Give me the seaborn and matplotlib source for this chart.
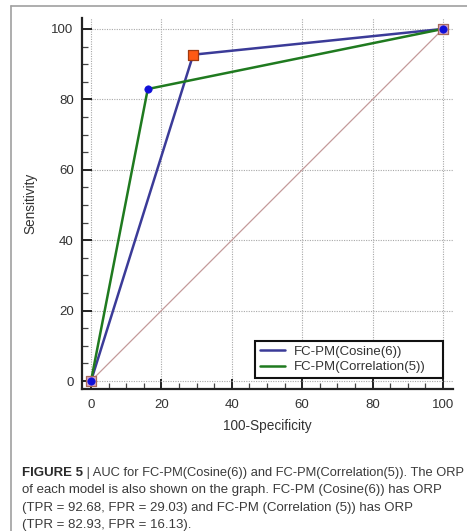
import matplotlib
matplotlib.use("Agg")
import matplotlib.pyplot as plt
import seaborn as sns
import pandas as pd
from matplotlib.lines import Line2D
from matplotlib.ticker import MultipleLocator

# ---- data ----
series_names = ["FC-PM(Cosine(6))", "FC-PM(Correlation(5))"]
fpr_cosine = [0, 29.03, 100]
tpr_cosine = [0, 92.68, 100]
fpr_corr = [0, 16.13, 100]
tpr_corr = [0, 82.93, 100]
diag_x = [0, 100]
diag_y = [0, 100]
x_ticks = [0, 20, 40, 60, 80, 100]
y_ticks = [0, 20, 40, 60, 80, 100]
x_label = "100-Specificity"
y_label = "Sensitivity"
caption_bold = "FIGURE 5"
caption_rest = " | AUC for FC-PM(Cosine(6)) and FC-PM(Correlation(5)). The ORP"
caption_lines = [
    "of each model is also shown on the graph. FC-PM (Cosine(6)) has ORP",
    "(TPR = 92.68, FPR = 29.03) and FC-PM (Correlation (5)) has ORP",
    "(TPR = 82.93, FPR = 16.13).",
]

sns.set_theme(style="white")
plt.rcParams["font.family"] = ["Liberation Sans", "DejaVu Sans"]

W, H = 467, 531
fig = plt.figure(figsize=(W / 100, H / 100), dpi=100)

def fx(px):
    return px / W

def fy(py):
    return 1 - py / H

ax = fig.add_axes([fx(82), fy(389), fx(453) - fx(82), fy(18) - fy(389)])

df_cos = pd.DataFrame({"x": fpr_cosine, "y": tpr_cosine, "model": series_names[0]})
df_cor = pd.DataFrame({"x": fpr_corr, "y": tpr_corr, "model": series_names[1]})

blue = "#3b3b98"
green = "#1f7a1f"

# diagonal reference
sns.lineplot(x=diag_x, y=diag_y, ax=ax, color="#c49a9a", lw=0.9, zorder=2, legend=False)

sns.lineplot(data=df_cos, x="x", y="y", sort=False, ax=ax, color=blue, lw=1.8,
             label=series_names[0], zorder=3, estimator=None)
sns.lineplot(data=df_cor, x="x", y="y", sort=False, ax=ax, color=green, lw=1.8,
             label=series_names[1], zorder=3, estimator=None)

# markers
ends_x = [fpr_cosine[0], fpr_cosine[-1]]
ends_y = [tpr_cosine[0], tpr_cosine[-1]]
sns.scatterplot(x=ends_x, y=ends_y, ax=ax, marker="s", s=48, color="#d2a6cc",
                edgecolor="#a86a5a", linewidth=0.9, zorder=4, legend=False)
sns.scatterplot(x=[fpr_cosine[1]], y=[tpr_cosine[1]], ax=ax, marker="s", s=48,
                color="#ff5a14", edgecolor="#a03a10", linewidth=0.9, zorder=5, legend=False)
corr_pts_x = [fpr_corr[0], fpr_corr[1], fpr_corr[2]]
corr_pts_y = [tpr_corr[0], tpr_corr[1], tpr_corr[2]]
sns.scatterplot(x=corr_pts_x, y=corr_pts_y, ax=ax, marker="o", s=28,
                color="#1010d8", edgecolor="#1010d8", linewidth=0.5, zorder=6, legend=False)

ax.set_xlim(-2.56, 102.84)
ax.set_ylim(-2.27, 103.1)
ax.set_xticks(x_ticks)
ax.set_yticks(y_ticks)
ax.xaxis.set_minor_locator(MultipleLocator(5))
ax.yaxis.set_minor_locator(MultipleLocator(5))

ax.grid(True, which="major", color="#a8a8a8", linestyle=(0, (1, 1.2)), lw=0.8)
ax.set_axisbelow(True)

for s in ["top", "right"]:
    ax.spines[s].set_visible(False)
for s in ["left", "bottom"]:
    ax.spines[s].set_color("#222222")
    ax.spines[s].set_linewidth(1.6)

ax.tick_params(which="major", direction="in", length=7, width=1.4, color="#222222",
               labelsize=9.5, labelcolor="#333333")
ax.tick_params(which="minor", direction="in", length=4, width=0.9, color="#444444")
ax.tick_params(axis="y", which="major", pad=6, left=True)
ax.tick_params(axis="x", which="major", pad=7, bottom=True)
ax.tick_params(axis="y", which="minor", left=True)
ax.tick_params(axis="x", which="minor", bottom=True)

ax.set_xlabel(x_label, fontsize=9.8, color="#333333", labelpad=6)
ax.set_ylabel(y_label, fontsize=9.8, color="#333333", labelpad=10)

leg = ax.legend(loc="lower left", bbox_to_anchor=(0.466, 0.0296, 0.507, 0.108),
                mode="expand", frameon=True, fancybox=False, fontsize=9.5,
                handlelength=1.9, handletextpad=0.7, labelspacing=0.25,
                borderpad=0.35, borderaxespad=0)
leg.get_frame().set_edgecolor("#111111")
leg.get_frame().set_linewidth(1.5)
leg.get_frame().set_facecolor("white")
leg.get_frame().set_alpha(1)
for t in leg.get_texts():
    t.set_color("#333333")

# outer page frame lines
fig.add_artist(Line2D([fx(11), 1], [fy(6), fy(6)], color="#a0a0a0", lw=1.2))
fig.add_artist(Line2D([fx(11), fx(11)], [fy(6), 0], color="#a0a0a0", lw=1.2))

# caption
cap_size = 9.5
line_y = [473, 490.5, 508, 525]
tb = fig.text(fx(22), fy(line_y[0]), caption_bold, fontsize=cap_size, fontweight="bold",
              color="#2a2a2a", va="center", ha="left")
fig.canvas.draw()
bb = tb.get_window_extent()
tr = fig.text(bb.x1 / W, fy(line_y[0]), caption_rest, fontsize=cap_size, color="#3a3a3a",
              va="center", ha="left")
fig.canvas.draw()
# shrink the first line's remainder so it ends at the reference's right edge
ext = tr.get_window_extent()
target_right = 464
if ext.x1 > target_right:
    tr.set_fontsize(cap_size * (target_right - bb.x1) / (ext.x1 - bb.x1))
for i, txt in enumerate(caption_lines):
    fig.text(fx(22), fy(line_y[i + 1]), txt, fontsize=cap_size, color="#3a3a3a",
             va="center", ha="left")

fig.savefig("out.png", dpi=100)
